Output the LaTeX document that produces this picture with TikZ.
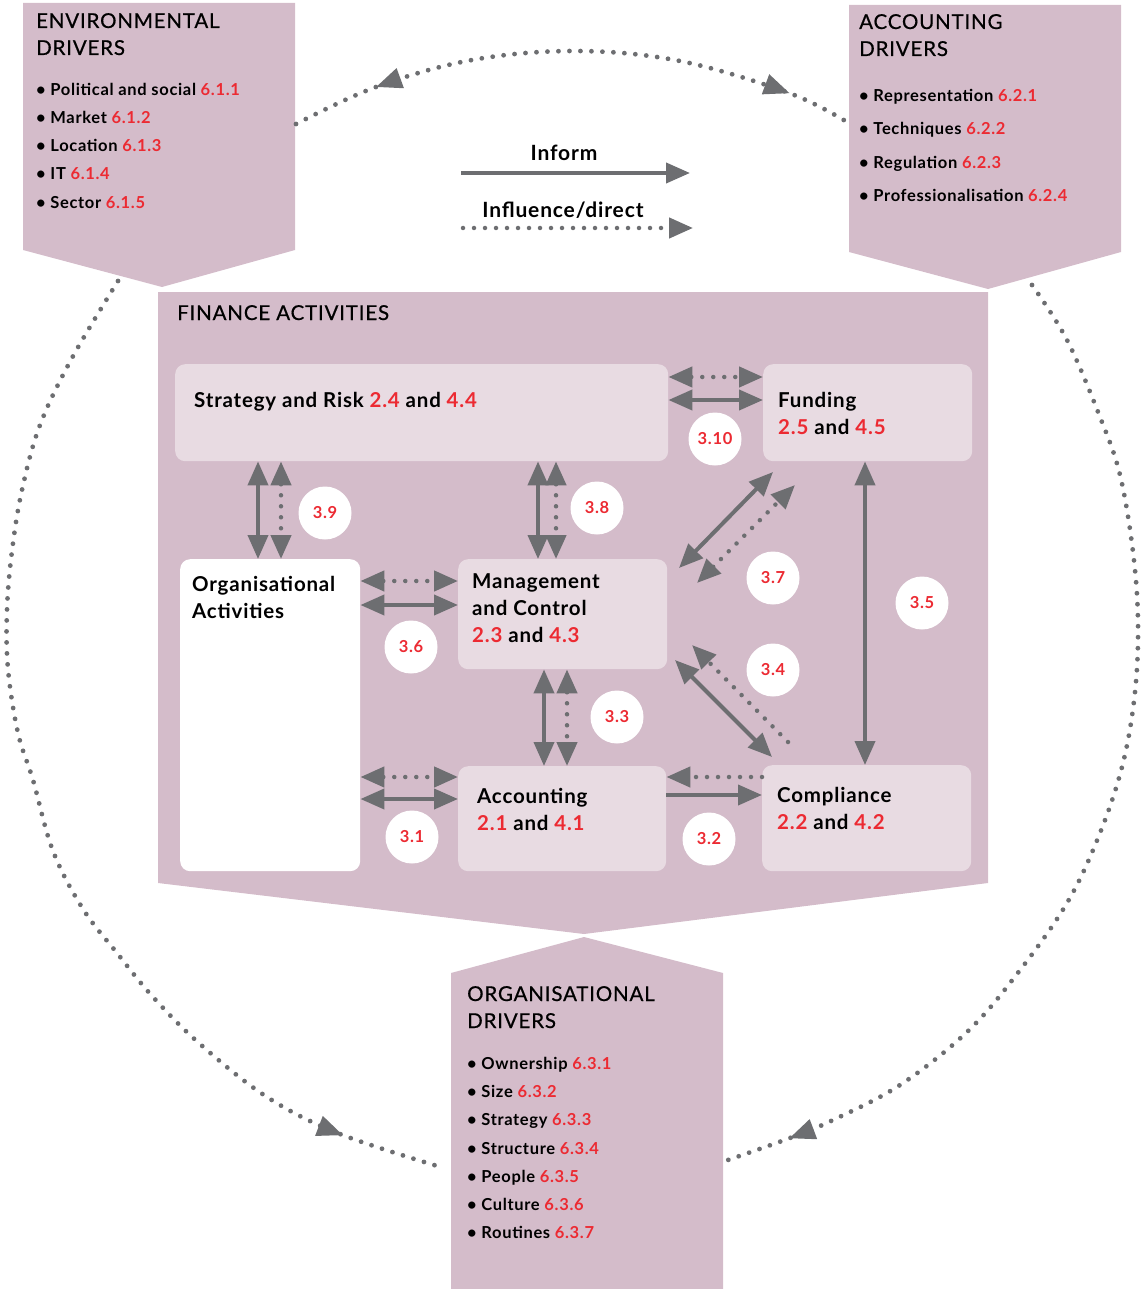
\documentclass[tikz,border=0pt]{standalone}
\usepackage{fontspec}
\setmainfont{Lato}[LetterSpace=4]
\newfontfamily\hfont{Lato}[LetterSpace=4, FakeBold=0.6]
\usetikzlibrary{arrows.meta,decorations.markings,calc}
\definecolor{mauve}{HTML}{D4BCCA}
\definecolor{lite}{HTML}{E8DBE2}
\definecolor{agray}{HTML}{6D6E71}
\definecolor{ared}{HTML}{EC2A32}
\newcommand\rn[1]{{\color{ared}#1}}
\tikzset{
  head/.style={anchor=base west, inner sep=0pt, font=\hfont\fontsize{20.5}{24}\selectfont},
  itm/.style={anchor=base west, inner sep=0pt, font=\bfseries\fontsize{16.5}{19}\selectfont},
  blbl/.style={anchor=base west, inner sep=0pt, font=\bfseries\fontsize{20.5}{24}\selectfont},
  leglbl/.style={inner sep=0pt, font=\bfseries\fontsize{21}{24}\selectfont},
  num/.style={circle, fill=white, minimum size=53pt, inner sep=0pt, text=ared, font=\bfseries\fontsize{16.5}{18}\selectfont},
  actbox/.style={rectangle, rounded corners=10pt, fill=lite, anchor=north west, inner sep=0pt},
  sline/.style={draw=agray, line width=4pt},
  dline/.style={draw=agray, line width=4.5pt, line cap=round, dash pattern=on 0pt off 11pt},
  bigdots/.style={draw=agray, line width=4.8pt, line cap=round, dash pattern=on 0pt off 11pt},
}
\begin{document}
\begin{tikzpicture}[x=1pt, y=-1pt, >={Triangle[length=24pt,width=20pt]}]
\useasboundingbox (0,0) rectangle (1141,1289);

% ---- big shapes
\fill[mauve] (23,3) -- (295,3) -- (295,250) -- (162,287) -- (23,250) -- cycle;
\fill[mauve] (849,5) -- (1121,5) -- (1121,252) -- (988,289) -- (849,252) -- cycle;
\fill[mauve] (158,292) -- (988,292) -- (988,883) -- (584,934) -- (158,883) -- cycle;
\fill[mauve] (451,973) -- (584,937) -- (723,973) -- (723,1289) -- (451,1289) -- cycle;

% ---- outer dotted arcs
\draw[bigdots, postaction={decorate, decoration={markings,
   mark=at position 88pt with {\arrowreversed{Triangle[length=26pt,width=20pt]}},
   mark=at position -64pt with {\arrow{Triangle[length=26pt,width=20pt]}}}}]
  plot[smooth, tension=0.6] coordinates {(296,124) (376,87) (472,60) (576,51) (680,61) (789,93) (847,122)};
\draw[bigdots, postaction={decorate, decoration={markings,
   mark=at position -106pt with {\arrow{Triangle[length=26pt,width=20pt]}}}}]
  plot[smooth, tension=0.6] coordinates {(118,281) (72,358) (40,425) (22,490) (12,551) (7,610) (8,669) (18,733) (33,780) (53,851) (83,909) (117,953) (153,997) (200,1044) (267,1097) (340,1134) (444,1168)};
\draw[bigdots, postaction={decorate, decoration={markings,
   mark=at position -68pt with {\arrow{Triangle[length=26pt,width=20pt]}}}}]
  plot[smooth, tension=0.6] coordinates {(1032,285) (1067,340) (1100,417) (1120,475) (1133,552) (1138,622) (1135,692) (1123,763) (1100,833) (1067,903) (1017,974) (967,1032) (900,1085) (833,1120) (790,1138) (725,1161)};

% ---- environmental drivers
\node[head] (envh1) at (36,28) {ENVIRONMENTAL};
\node[head] (envh2) at (36,55) {DRIVERS};
\node[itm] (env1) at (36,96) {• Political and social \rn{6.1.1}};
\node[itm] (env2) at (36,124) {• Market \rn{6.1.2}};
\node[itm] (env3) at (36,152) {• Location \rn{6.1.3}};
\node[itm] (env4) at (36,180) {• IT \rn{6.1.4}};
\node[itm] (env5) at (36,209) {• Sector \rn{6.1.5}};

% ---- accounting drivers
\node[head] (acch1) at (859,29) {ACCOUNTING};
\node[head] (acch2) at (859,56) {DRIVERS};
\node[itm] (acc1) at (859,102) {• Representation \rn{6.2.1}};
\node[itm] (acc2) at (859,135) {• Techniques \rn{6.2.2}};
\node[itm] (acc3) at (859,169) {• Regulation \rn{6.2.3}};
\node[itm] (acc4) at (859,202) {• Professionalisation \rn{6.2.4}};

% ---- organisational drivers
\node[head] (orgh1) at (467,1001) {ORGANISATIONAL};
\node[head] (orgh2) at (467,1028) {DRIVERS};
\node[itm] (org1) at (467,1069) {• Ownership \rn{6.3.1}};
\node[itm] (org2) at (467,1097) {• Size \rn{6.3.2}};
\node[itm] (org3) at (467,1125) {• Strategy \rn{6.3.3}};
\node[itm] (org4) at (467,1154) {• Structure \rn{6.3.4}};
\node[itm] (org5) at (467,1182) {• People \rn{6.3.5}};
\node[itm] (org6) at (467,1210) {• Culture \rn{6.3.6}};
\node[itm] (org7) at (467,1238) {• Routines \rn{6.3.7}};

% ---- legend
\node[leglbl] (linf) at (564,153) {Inform};
\node[leglbl] (linfl) at (563,210) {Influence/direct};
\coordinate (i1) at (461,173); \coordinate (i2) at (690,173);
\coordinate (j1) at (463,228); \coordinate (j2) at (693,228);
\draw[sline,->] (i1) -- (i2);
\draw[dline,->] (j1) -- (j2);

% ---- finance activities
\node[head] (finh) at (177,320) {FINANCE ACTIVITIES};

\node[actbox, minimum width=493pt, minimum height=97pt] (sr) at (175,364) {};
\node[actbox, minimum width=209pt, minimum height=97pt] (fund) at (763,364) {};
\node[actbox, fill=white, minimum width=180pt, minimum height=312pt] (oa) at (180,559) {};
\node[actbox, minimum width=209pt, minimum height=110pt] (mc) at (458,559) {};
\node[actbox, minimum width=208pt, minimum height=105pt] (ac) at (458,766) {};
\node[actbox, minimum width=209pt, minimum height=106pt] (cp) at (762,765) {};

\node[blbl] (srt) at (194,407) {Strategy and Risk \rn{2.4} and \rn{4.4}};
\node[blbl] (fut1) at (778,407) {Funding};
\node[blbl] (fut2) at (778,434) {\rn{2.5} and \rn{4.5}};
\node[blbl] (oat1) at (192,591) {Organisational};
\node[blbl] (oat2) at (192,618) {Activities};
\node[blbl] (mct1) at (472,588) {Management};
\node[blbl] (mct2) at (472,615) {and Control};
\node[blbl] (mct3) at (472,642) {\rn{2.3} and \rn{4.3}};
\node[blbl] (act1) at (477,803) {Accounting};
\node[blbl] (act2) at (477,830) {\rn{2.1} and \rn{4.1}};
\node[blbl] (cpt1) at (777,802) {Compliance};
\node[blbl] (cpt2) at (777,829) {\rn{2.2} and \rn{4.2}};

% ---- connectors
% 3.10
\draw[dline,<->] (sr.east |- 0,377) -- (fund.west |- 0,377);
\draw[sline,<->] (sr.east |- 0,400) -- (fund.west |- 0,400);
% 3.9
\draw[sline,<->] (sr.south -| 258,0) -- (oa.north -| 258,0);
\draw[dline,<->] (sr.south -| 281,0) -- (oa.north -| 281,0);
% 3.8
\draw[sline,<->] (sr.south -| 538,0) -- (mc.north -| 538,0);
\draw[dline,<->] (sr.south -| 556,0) -- (mc.north -| 556,0);
% 3.6
\draw[dline,<->] (oa.east |- 0,581) -- (mc.west |- 0,581);
\draw[sline,<->] (oa.east |- 0,605) -- (mc.west |- 0,605);
% 3.1
\draw[dline,<->] (oa.east |- 0,777) -- (ac.west |- 0,777);
\draw[sline,<->] (oa.east |- 0,799) -- (ac.west |- 0,799);
% 3.3
\draw[sline,<->] (mc.south -| 544,0) -- (ac.north -| 544,0);
\draw[dline,<->] (mc.south -| 567,0) -- (ac.north -| 567,0);
% 3.2
\draw[dline,->] (cp.west |- 0,777) -- (ac.east |- 0,777);
\draw[sline,->] (ac.east |- 0,795) -- (cp.west |- 0,795);
% 3.5
\draw[sline,<->] (fund.south -| 865,0) -- (cp.north -| 865,0);
% 3.7
\coordinate (a7s) at (679,568); \coordinate (a7e) at (773,472);
\coordinate (d7s) at (697,583); \coordinate (d7e) at (795,485);
\draw[sline,<->] (a7s) -- (a7e);
\draw[dline,<->] (d7s) -- (d7e);
% 3.4
\coordinate (a4s) at (675,660); \coordinate (a4e) at (772,757);
\coordinate (d4s) at (788,742); \coordinate (d4e) at (692,645);
\draw[sline,<->] (a4s) -- (a4e);
\draw[dline,->] (d4s) -- (d4e);

% ---- number circles
\node[num] (c310) at (715,439) {3.10};
\node[num] (c39) at (325,513) {3.9};
\node[num] (c38) at (597,508) {3.8};
\node[num] (c37) at (773,578) {3.7};
\node[num] (c35) at (922,603) {3.5};
\node[num] (c36) at (411,647) {3.6};
\node[num] (c34) at (773,670) {3.4};
\node[num] (c33) at (617,717) {3.3};
\node[num] (c31) at (412,837) {3.1};
\node[num] (c32) at (709,839) {3.2};
\end{tikzpicture}
\end{document}
